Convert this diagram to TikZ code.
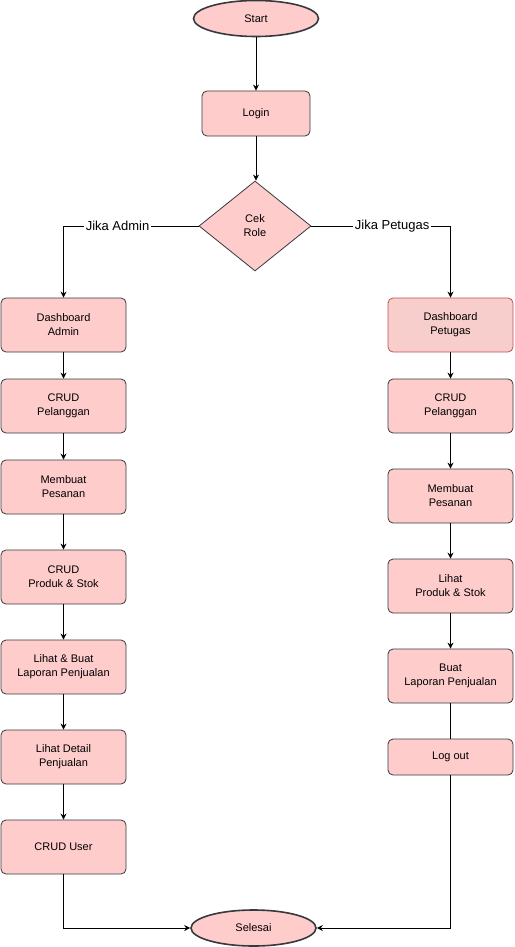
\documentclass[tikz,border=0pt]{standalone}
\usepackage{fontspec}
\setmainfont{Liberation Sans}
\usetikzlibrary{shapes.geometric,arrows.meta}
\definecolor{boxfill}{HTML}{FFCCCC}
\definecolor{boxline}{HTML}{36393D}
\definecolor{pfill}{HTML}{F8CECC}
\definecolor{pline}{HTML}{B85450}
\tikzset{
  stepbox/.style={rectangle, rounded corners=5pt, draw=boxline, fill=boxfill, line width=0.8pt,
    minimum width=125pt, minimum height=54pt, inner sep=0pt, align=center,
    font=\fontsize{11}{14}\selectfont},
  term/.style={ellipse, draw=boxline, fill=boxfill, line width=1.6pt,
    minimum width=125pt, minimum height=36pt, inner sep=0pt, font=\fontsize{11}{14}\selectfont},
  decision/.style={diamond, draw=boxline, fill=boxfill, line width=0.8pt,
    minimum width=112pt, minimum height=90pt, inner sep=0pt, align=center,
    font=\fontsize{11}{14}\selectfont},
  arr/.style={draw=black, line width=0.8pt, -{Stealth[length=6pt,width=6pt]}},
  plain/.style={draw=black, line width=0.8pt},
  lbl/.style={fill=white, inner sep=2pt, font=\fontsize{13}{15}\selectfont}
}
\begin{document}
\begin{tikzpicture}[x=1pt,y=-1pt]
\useasboundingbox (0,0) rectangle (514,947);
\node[term] (start) at (256,18.5) {Start};
\node[stepbox, minimum width=108pt, minimum height=45pt] (login) at (256,113.5) {Login};
\node[decision] (cek) at (255,226) {Cek\\Role};
% left column
\node[stepbox] (dadmin) at (63.5,325) {Dashboard\\Admin};
\node[stepbox] (lcrudp) at (63.5,406) {CRUD\\Pelanggan};
\node[stepbox] (lpesan) at (63.5,487) {Membuat\\Pesanan};
\node[stepbox] (lproduk) at (63.5,577) {CRUD\\Produk \& Stok};
\node[stepbox] (llap) at (63.5,667) {Lihat \& Buat\\Laporan Penjualan};
\node[stepbox] (ldetail) at (63.5,757) {Lihat Detail\\Penjualan};
\node[stepbox] (cuser) at (63.5,847) {CRUD User};
% right column
\node[stepbox, fill=pfill, draw=pline] (dpetugas) at (450.5,325) {Dashboard\\Petugas};
\node[stepbox] (rcrudp) at (450.5,406) {CRUD\\Pelanggan};
\node[stepbox] (rpesan) at (450.5,496) {Membuat\\Pesanan};
\node[stepbox] (rproduk) at (450.5,586) {Lihat\\Produk \& Stok};
\node[stepbox] (rlap) at (450.5,676) {Buat\\Laporan Penjualan};
\node[stepbox, minimum height=36pt] (logout) at (450.5,757) {Log out};
\node[term] (selesai) at (253.5,928) {Selesai};
% connectors
\draw[arr] (start) -- (login);
\draw[arr] (login.south) -- (login.south |- cek.north);
\draw[arr] (cek.west) -| node[lbl, pos=0.3] (ladmin) {Jika Admin} (dadmin.north);
\draw[arr] (cek.east) -| node[lbl, pos=0.29] (lpetugas) {Jika Petugas} (dpetugas.north);
\draw[arr] (dadmin) -- (lcrudp);
\draw[arr] (lcrudp) -- (lpesan);
\draw[arr] (lpesan) -- (lproduk);
\draw[arr] (lproduk) -- (llap);
\draw[arr] (llap) -- (ldetail);
\draw[arr] (ldetail) -- (cuser);
\draw[arr] (dpetugas) -- (rcrudp);
\draw[arr] (rcrudp) -- (rpesan);
\draw[arr] (rpesan) -- (rproduk);
\draw[arr] (rproduk) -- (rlap);
\draw[plain] (rlap) -- (logout);
\draw[arr] (cuser.south) |- (selesai.west);
\draw[arr] (logout.south) |- (selesai.east);
\end{tikzpicture}
\end{document}
